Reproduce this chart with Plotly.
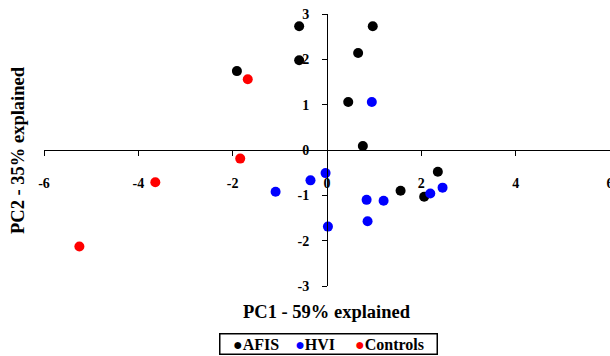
import plotly.graph_objects as go

# PCA scores (PC1, PC2) per group
afis_pc1 = [-0.59, 0.97, 0.66, -0.59, -1.91, 0.45, 0.76, 2.35, 1.56, 2.06]
afis_pc2 = [2.73, 2.73, 2.14, 1.98, 1.74, 1.06, 0.09, -0.48, -0.90, -1.03]

hvi_pc1 = [0.95, -0.03, -0.35, -1.09, 0.84, 1.20, 2.19, 2.45, 0.86, 0.02]
hvi_pc2 = [1.06, -0.51, -0.67, -0.92, -1.10, -1.12, -0.96, -0.83, -1.57, -1.69]

ctrl_pc1 = [-1.68, -1.84, -3.64, -5.25]
ctrl_pc2 = [1.56, -0.19, -0.71, -2.13]

x_ticks = [-6, -4, -2, 0, 2, 4, 6]
y_ticks = [-3, -2, -1, 0, 1, 2, 3]

SERIF = "Liberation Serif"

fig = go.Figure()
for name, xs, ys, color in [
    ("AFIS", afis_pc1, afis_pc2, "#000000"),
    ("HVI", hvi_pc1, hvi_pc2, "#0000FF"),
    ("Controls", ctrl_pc1, ctrl_pc2, "#FF0000"),
]:
    fig.add_trace(go.Scatter(
        x=xs, y=ys, mode="markers", name=name,
        marker=dict(size=10, color=color, line=dict(width=0)),
        showlegend=False,
    ))

axis_common = dict(
    showline=True, linecolor="black", linewidth=1,
    ticks="outside", ticklen=5, tickcolor="black", tickwidth=1,
    showgrid=False, zeroline=False,
    tickfont=dict(family=SERIF, size=14, color="black", weight="bold"),
    anchor="free", position=0.5, automargin=False,
    ticklabeloverflow="allow",
)

fig.update_xaxes(range=[-6, 6], tickvals=x_ticks, ticktext=[str(v) for v in x_ticks],
                 ticklabelstandoff=15, **axis_common)
fig.update_yaxes(range=[-3, 3], tickvals=y_ticks, ticktext=[str(v) for v in y_ticks],
                 ticklabelstandoff=10, **axis_common)

legend_text = (
    "<span style='color:#000000'>●</span>AFIS&nbsp;&nbsp;&nbsp; "
    "<span style='color:#0000FF'>●</span>HVI&nbsp;&nbsp;&nbsp;&nbsp; "
    "<span style='color:#FF0000'>●</span>Controls"
)

fig.update_layout(
    width=610, height=356,
    margin=dict(l=44, r=0, t=14, b=70),
    plot_bgcolor="white", paper_bgcolor="white",
    font=dict(family=SERIF, color="black"),
    annotations=[
        dict(text="<b>PC1 - 59% explained</b>", xref="paper", yref="paper",
             x=0.5, y=-0.0956, xanchor="center", yanchor="middle", showarrow=False,
             font=dict(family=SERIF, size=18.5, color="black")),
        dict(text="<b>PC2 - 35% explained</b>", xref="paper", yref="paper",
             x=-0.046, y=0.5, xanchor="center", yanchor="middle", textangle=-90,
             showarrow=False,
             font=dict(family=SERIF, size=18.5, color="black")),
        dict(text="<b>" + legend_text + "</b>", xref="paper", yref="paper",
             x=(328 - 44) / 566, y=(286 - 343.5) / 272, xanchor="center", yanchor="middle",
             width=214, height=17, align="center",
             showarrow=False, bordercolor="black", borderwidth=1.5, borderpad=1,
             font=dict(family=SERIF, size=16, color="black")),
    ],
)

fig.write_html("out.html")
